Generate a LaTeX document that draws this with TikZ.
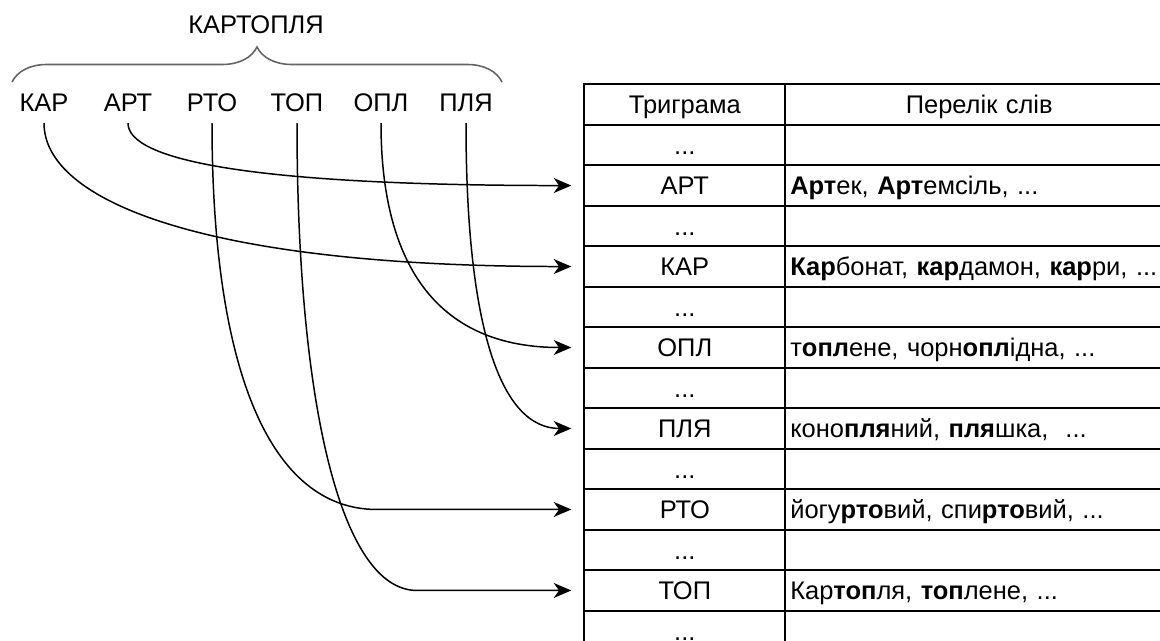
\documentclass[tikz,border=0pt]{standalone}
\usepackage{fontspec}
\setmainfont{Liberation Sans}
\usetikzlibrary{matrix,positioning,arrows.meta,decorations.pathreplacing}
\definecolor{bracegray}{RGB}{100,100,100}
\tikzset{
  trig/.style={inner xsep=1pt, inner ysep=6.6pt, text height=10.5pt, text depth=0pt},
  link/.style={-{Stealth[length=10pt,width=8.5pt,inset=3pt]}, line width=0.85pt, shorten >=0.26cm},
}

\begin{document}
\begin{tikzpicture}[x=0.02cm, y=-0.02cm, font=\fontsize{14.5}{17}\selectfont]
\useasboundingbox (0,0) rectangle (1160,641);
\clip (0,0) rectangle (1160,641);

% the word and its trigrams
\node[trig] (word) at (256,24) {КАРТОПЛЯ};
\draw[bracegray, line width=0.9pt, decorate, decoration={brace, amplitude=0.7cm}] (12,82) -- (502,82);

\node[trig] (kar)  at (44,102)  {КАР};
\node[trig] (art)  at (128,102) {АРТ};
\node[trig] (rto)  at (212,102) {РТО};
\node[trig] (top)  at (297,102) {ТОП};
\node[trig] (opl)  at (381,102) {ОПЛ};
\node[trig] (plya) at (466,102) {ПЛЯ};

% index table
\matrix (m) [matrix of nodes, nodes in empty cells, anchor=north west, inner sep=0pt, row sep=-1.1pt, column sep=-1.1pt,
             nodes={draw, line width=1.1pt, outer sep=0pt, inner xsep=0.1cm, inner ysep=0pt,
                    minimum height=0.81cm, text height=10.5pt, text depth=0pt, anchor=center},
             column 1/.style={nodes={text width=3.82cm, align=center}},
             column 2/.style={nodes={text width=7.56cm, align=left}},
             ampersand replacement=\&] at (583,83) {
  Триграма \& |[align=center]| Перелік слів \\
  ...      \& \\
  АРТ      \& \textbf{Арт}ек, \textbf{Арт}емсіль, ... \\
  ...      \& \\
  КАР      \& \mbox{\textbf{Кар}бонат, \textbf{кар}дамон, \textbf{кар}ри, ...} \\
  ...      \& \\
  ОПЛ      \& т\textbf{опл}ене, чорн\textbf{опл}ідна, ... \\
  ...      \& \\
  ПЛЯ      \& коно\textbf{пля}ний, \textbf{пля}шка, \ ... \\
  ...      \& \\
  РТО      \& йогу\textbf{рто}вий, спи\textbf{рто}вий, ... \\
  ...      \& \\
  ТОП      \& Кар\textbf{топ}ля, \textbf{топ}лене, ... \\
  ...      \& \\
};

% links from trigrams to rows
\draw[link] (art.south)  .. controls +(0,37)  and +(-333,0) .. (m-3-1.west);
\draw[link] (kar.south)  .. controls +(0,77)  and +(-383,0) .. (m-5-1.west);
\draw[link] (opl.south)  .. controls +(0,147) and +(-143,0) .. (m-7-1.west);
\draw[link] (plya.south) .. controls +(0,207) and +(-83,0)  .. (m-9-1.west);
\draw[link] (rto.south)  .. controls +(0,247) and +(-107,0) .. (377,0 |- m-11-1.west) -- (m-11-1.west);
\draw[link] (top.south)  .. controls +(0,277) and +(-77,0)  .. (417,0 |- m-13-1.west) -- (m-13-1.west);
\end{tikzpicture}
\end{document}
